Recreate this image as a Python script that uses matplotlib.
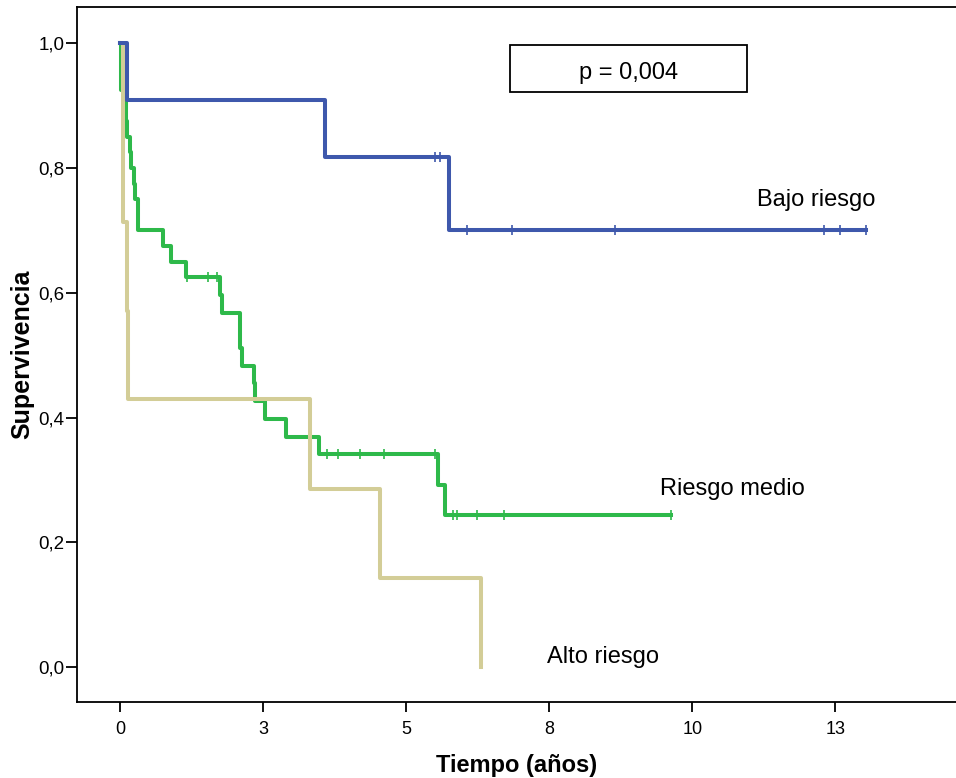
import matplotlib.pyplot as plt
import numpy as np

plt.rcParams['font.family'] = ['Liberation Sans', 'DejaVu Sans']

# Bajo riesgo (steps and censor times, years)
bajo_t = [0.0, 0.12, 3.57, 5.75, 13.03]
bajo_s = [1.0, 0.909, 0.818, 0.70, 0.70]
bajo_cens = [5.50, 5.59, 6.06, 6.84, 8.64, 12.30, 12.58, 13.03]

# Riesgo medio
medio_t = [0.0, 0.01, 0.09, 0.12, 0.16, 0.19, 0.23, 0.26, 0.30, 0.74, 0.88, 1.15,
           1.74, 1.77, 2.09, 2.12, 2.33, 2.36, 2.53, 2.89, 3.47, 5.55, 5.67, 9.62]
medio_s = [1.0, 0.925, 0.875, 0.85, 0.825, 0.80, 0.775, 0.75, 0.70, 0.675, 0.65, 0.625,
           0.597, 0.568, 0.511, 0.483, 0.455, 0.426, 0.398, 0.369, 0.341, 0.292, 0.244, 0.244]
medio_cens = [1.16, 1.53, 1.69, 3.61, 3.80, 4.19, 4.61, 5.50, 5.81, 5.88, 6.23, 6.70, 9.62]

# Alto riesgo
alto_t = [0.0, 0.04, 0.12, 0.14, 3.31, 4.54, 6.31]
alto_s = [1.0, 0.714, 0.571, 0.429, 0.286, 0.143, 0.0]

xticks = [0, 2.5, 5, 7.5, 10, 12.5]
xtick_labels = ['0', '3', '5', '8', '10', '13']
yticks = [0.0, 0.2, 0.4, 0.6, 0.8, 1.0]
ytick_labels = ['0,0', '0,2', '0,4', '0,6', '0,8', '1,0']

c_bajo = '#3E58AC'
c_medio = '#2EB94A'
c_alto = '#D3CD97'


def surv_at(t, s, times):
    # value of the step function at each censor time
    idx = np.searchsorted(t, times, side='right') - 1
    return np.array(s)[idx]


fig = plt.figure(figsize=(9.56, 7.78), dpi=100)
ax = fig.add_axes([0.0805, 0.0977, 0.9195, 0.8933])

lw = 2.9
ax.step(bajo_t, bajo_s, where='post', color=c_bajo, lw=lw, zorder=3)
ax.plot(bajo_cens, surv_at(bajo_t, bajo_s, bajo_cens), '|', color=c_bajo,
        ms=7.5, mew=1.2, zorder=3)

ax.step(medio_t, medio_s, where='post', color=c_medio, lw=lw, zorder=2)
ax.plot(medio_cens, surv_at(medio_t, medio_s, medio_cens), '|', color=c_medio,
        ms=7.5, mew=1.2, zorder=2)

ax.step(alto_t, alto_s, where='post', color=c_alto, lw=lw, zorder=2.5)

ax.set_xlim(-0.76, 14.61)
ax.set_ylim(-0.056, 1.058)

ax.set_xticks(xticks)
ax.set_xticklabels(xtick_labels, fontsize=13)
ax.set_yticks(yticks)
ax.set_yticklabels(ytick_labels, fontsize=13.5)
ax.tick_params(axis='x', length=7.5, width=1.3, pad=6)
ax.tick_params(axis='y', length=8, width=1.3, pad=1)

ax.spines['right'].set_visible(False)
for sp in ['left', 'bottom', 'top']:
    ax.spines[sp].set_linewidth(1.3)

ax.set_xlabel('Tiempo (años)', fontsize=17, fontweight='bold', labelpad=12)
ax.set_ylabel('Supervivencia', fontsize=18, fontweight='bold', labelpad=3)

ax.text(11.13, 0.748, 'Bajo riesgo', fontsize=17, ha='left', va='center')
ax.text(9.43, 0.286, 'Riesgo medio', fontsize=17, ha='left', va='center')
ax.text(7.455, 0.016, 'Alto riesgo', fontsize=17, ha='left', va='center')

# p-value box
ax.add_patch(plt.Rectangle((6.81, 0.921), 4.14, 0.076, fill=False,
                           ec='black', lw=1.3, zorder=4))
ax.text(8.88, 0.952, 'p = 0,004', fontsize=17, ha='center', va='center')

fig.savefig('out.png', dpi=100)
